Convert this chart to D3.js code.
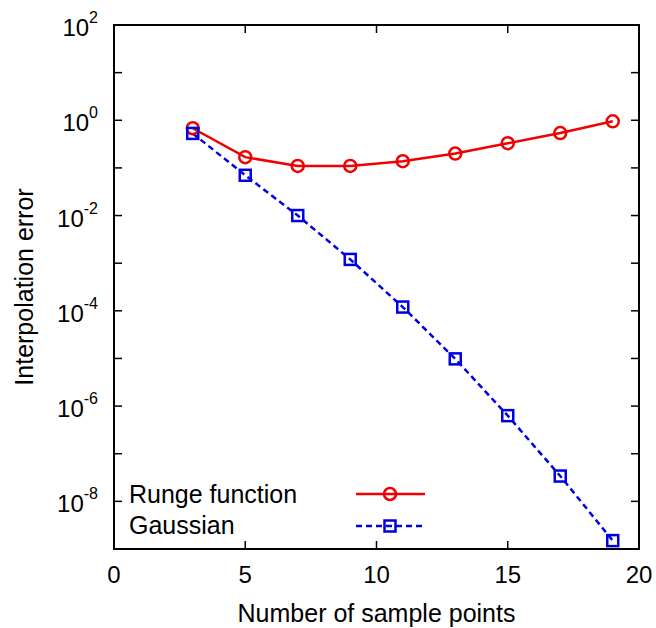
<!DOCTYPE html>
<html>
<head>
<meta charset="utf-8">
<script src="https://cdn.jsdelivr.net/npm/d3@7"></script>
<style>
  body { margin: 0; background: #fff; }
  text { font-family: "Liberation Sans", Arial, sans-serif; fill: #000; }
</style>
</head>
<body>
<div id="chart"></div>
<script>
// data
var samplePoints = [3, 5, 7, 9, 11, 13, 15, 17, 19];
var rungeError = [0.68, 0.168, 0.11, 0.11, 0.138, 0.2, 0.33, 0.54, 0.95];
var gaussError = [0.53, 0.07, 0.01, 1.2e-3, 1.2e-4, 9.8e-6, 6.3e-7, 3.4e-8, 1.5e-9];
var xTicks = [0, 5, 10, 15, 20];
var yExps = [-9, -8, -7, -6, -5, -4, -3, -2, -1, 0, 1, 2];
var yLabelExps = [-8, -6, -4, -2, 0, 2];

var W = 656, H = 628;
var m = {left: 114, top: 25, right: 17, bottom: 79};
var pw = W - m.left - m.right, ph = H - m.top - m.bottom;

var svg = d3.select('#chart').append('svg')
  .attr('width', W).attr('height', H);

var x = d3.scaleLinear().domain([0, 20]).range([m.left, m.left + pw]);
var y = d3.scaleLog().domain([1e-9, 1e2]).range([m.top + ph, m.top]);

var tickLen = 8;
var g = svg.append('g').attr('stroke', '#000').attr('stroke-width', 1.5);

// ticks, mirrored on all sides
xTicks.forEach(function(t) {
  if (t == 0 || t == 20) return;
  g.append('line').attr('x1', x(t)).attr('x2', x(t))
    .attr('y1', m.top + ph).attr('y2', m.top + ph - tickLen);
  g.append('line').attr('x1', x(t)).attr('x2', x(t))
    .attr('y1', m.top).attr('y2', m.top + tickLen);
});
yExps.forEach(function(e) {
  var v = Math.pow(10, e);
  if (e == -9 || e == 2) return;
  g.append('line').attr('x1', m.left).attr('x2', m.left + tickLen)
    .attr('y1', y(v)).attr('y2', y(v));
  g.append('line').attr('x1', m.left + pw).attr('x2', m.left + pw - tickLen)
    .attr('y1', y(v)).attr('y2', y(v));
});

// frame
svg.append('rect').attr('x', m.left).attr('y', m.top)
  .attr('width', pw).attr('height', ph)
  .attr('fill', 'none').attr('stroke', '#000').attr('stroke-width', 2);

// tick labels
svg.selectAll('text.xt').data(xTicks).enter().append('text')
  .attr('class', 'xt')
  .attr('x', function(d) { return x(d); })
  .attr('y', m.top + ph + 34)
  .attr('text-anchor', 'middle')
  .attr('font-size', 24)
  .text(function(d) { return d; });

var yl = svg.selectAll('text.yt').data(yLabelExps).enter().append('text')
  .attr('class', 'yt')
  .attr('x', m.left - 16)
  .attr('y', function(d) { return y(Math.pow(10, d)) + 11; })
  .attr('text-anchor', 'end')
  .attr('font-size', 24);
yl.append('tspan').text('10');
yl.append('tspan').attr('dy', -13).attr('font-size', 16).text(function(d) { return d; });

// axis titles
svg.append('text')
  .attr('x', x(10)).attr('y', H - 6)
  .attr('text-anchor', 'middle').attr('font-size', 25)
  .text('Number of sample points');
svg.append('text')
  .attr('transform', 'translate(33,' + (m.top + ph / 2) + ') rotate(-90)')
  .attr('text-anchor', 'middle').attr('font-size', 25)
  .text('Interpolation error');

var red = '#f00000', blue = '#0000e0';
var line = d3.line()
  .x(function(d) { return x(d[0]); })
  .y(function(d) { return y(d[1]); });

var runge = samplePoints.map(function(d, i) { return [d, rungeError[i]]; });
var gauss = samplePoints.map(function(d, i) { return [d, gaussError[i]]; });

svg.append('path').datum(gauss).attr('d', line)
  .attr('fill', 'none').attr('stroke', blue).attr('stroke-width', 2.5)
  .attr('stroke-dasharray', '6,4');
svg.append('path').datum(runge).attr('d', line)
  .attr('fill', 'none').attr('stroke', red).attr('stroke-width', 2.5);

svg.selectAll('circle.rm').data(runge).enter().append('circle')
  .attr('class', 'rm')
  .attr('cx', function(d) { return x(d[0]); })
  .attr('cy', function(d) { return y(d[1]); })
  .attr('r', 6).attr('fill', 'none').attr('stroke', red).attr('stroke-width', 2.5);

var s = 11;
svg.selectAll('rect.gm').data(gauss).enter().append('rect')
  .attr('class', 'gm')
  .attr('x', function(d) { return x(d[0]) - s / 2; })
  .attr('y', function(d) { return y(d[1]) - s / 2; })
  .attr('width', s).attr('height', s)
  .attr('fill', 'none').attr('stroke', blue).attr('stroke-width', 2.5);

// legend
var lx1 = 356, lx2 = 425, lmid = 390;
var ly1 = 494, ly2 = 526;
svg.append('text').attr('x', 129).attr('y', 503).attr('font-size', 25).text('Runge function');
svg.append('text').attr('x', 129).attr('y', 534).attr('font-size', 25).text('Gaussian');
svg.append('line').attr('x1', lx1).attr('x2', lx2).attr('y1', ly1).attr('y2', ly1)
  .attr('stroke', red).attr('stroke-width', 2.5);
svg.append('circle').attr('cx', lmid).attr('cy', ly1).attr('r', 6)
  .attr('fill', 'none').attr('stroke', red).attr('stroke-width', 2.5);
svg.append('line').attr('x1', lx1).attr('x2', lx2).attr('y1', ly2).attr('y2', ly2)
  .attr('stroke', blue).attr('stroke-width', 2.5).attr('stroke-dasharray', '6,4');
svg.append('rect').attr('x', lmid - s / 2).attr('y', ly2 - s / 2).attr('width', s).attr('height', s)
  .attr('fill', 'none').attr('stroke', blue).attr('stroke-width', 2.5);
</script>
</body>
</html>
